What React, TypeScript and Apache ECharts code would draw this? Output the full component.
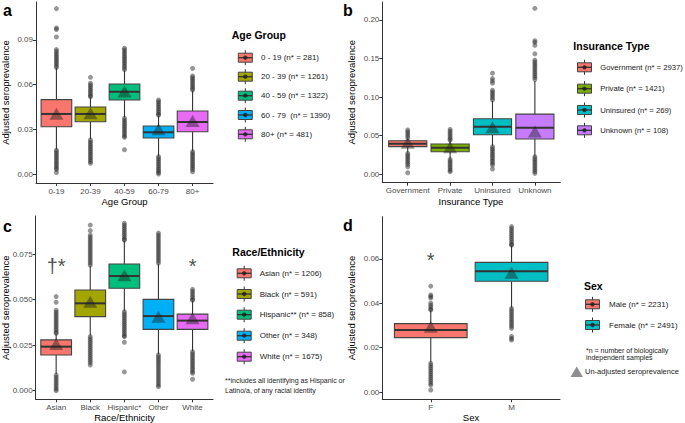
import React, { useEffect, useRef } from "react";
import * as echarts from "echarts";

const FONT = "'Liberation Sans', Arial, Helvetica, sans-serif";

// ---------- Panel a: Age Group ----------
const ageCats = ["0-19", "20-39", "40-59", "60-79", "80+"];
// [lower whisker, Q1, median, Q3, upper whisker]
const ageStats = [
  [0.0165, 0.0317, 0.0403, 0.0499, 0.0712],
  [0.0235, 0.0351, 0.0403, 0.045, 0.0515],
  [0.038, 0.0497, 0.0552, 0.0604, 0.0695],
  [0.012, 0.0242, 0.028, 0.0322, 0.039],
  [0.0155, 0.0284, 0.0349, 0.0423, 0.0558],
];
const ageOutliers = [
  [0.111, 0.098, 0.097, 0.092, 0.0835, 0.0823, 0.081, 0.0798, 0.0786, 0.0774, 0.0762, 0.075, 0.0738, 0.0726, 0.0715,
   0.016, 0.0148, 0.0136, 0.0124, 0.0112, 0.01, 0.0088, 0.0076, 0.0064, 0.0052, 0.004, 0.003, 0.001],
  [0.0649, 0.0609, 0.0597, 0.0585, 0.0573, 0.0561, 0.0549, 0.0537, 0.0525, 0.0519,
   0.0228, 0.0216, 0.0204, 0.0192, 0.018, 0.0168, 0.0156, 0.0144, 0.0132, 0.012, 0.0108, 0.0096, 0.0084, 0.0072],
  [0.0844, 0.0832, 0.082, 0.0808, 0.0796, 0.0784, 0.0772, 0.076, 0.0748, 0.0736, 0.0724, 0.0712, 0.07,
   0.0374, 0.0362, 0.035, 0.0338, 0.0326, 0.0314, 0.0302, 0.029, 0.0278, 0.0266, 0.0254, 0.0246, 0.0163],
  [0.0497, 0.0485, 0.0473, 0.0461, 0.0449, 0.0437, 0.0425, 0.0413, 0.0401, 0.0396,
   0.0116, 0.0104, 0.0092, 0.008, 0.0068, 0.0056, 0.0044, 0.0032, 0.002, 0.001, 0.0],
  [0.0709, 0.0658, 0.0646, 0.0634, 0.0622, 0.061, 0.0598, 0.0586, 0.0574, 0.0564,
   0.015, 0.0138, 0.0126, 0.0114, 0.0102, 0.009, 0.0078, 0.0066, 0.0054, 0.0042, 0.003, 0.0015],
];
const ageMeans = [0.0405, 0.0407, 0.0553, 0.03, 0.0355];
const ageTicks = [0, 0.03, 0.06, 0.09];
const ageTickLabels = ["0.00", "0.03", "0.06", "0.09"];
const ageLegend = ["0 - 19 (n* = 281)", "20 - 39 (n* = 1261)", "40 - 59 (n* = 1322)", "60 - 79  (n* = 1390)", "80+ (n* = 481)"];

// ---------- Panel b: Insurance Type ----------
const insCats = ["Government", "Private", "Uninsured", "Unknown"];
const insStats = [
  [0.028, 0.0358, 0.0396, 0.0435, 0.046],
  [0.02, 0.0293, 0.0345, 0.0392, 0.0438],
  [0.037, 0.0513, 0.0617, 0.072, 0.095],
  [0.0235, 0.0457, 0.0604, 0.078, 0.121],
];
const insOutliers = [
  [0.0574, 0.055, 0.0525, 0.05, 0.0474, 0.0272, 0.0248, 0.0224, 0.02, 0.0176, 0.0152, 0.0128, 0.0098, 0.002],
  [0.0583, 0.0558, 0.0533, 0.0508, 0.0483, 0.0458, 0.0444, 0.0194, 0.017, 0.0146, 0.0122, 0.0098, 0.0074, 0.005, 0.0034],
  [0.131, 0.124, 0.121, 0.118, 0.109, 0.1065, 0.104, 0.1015, 0.099, 0.0965,
   0.0358, 0.0334, 0.031, 0.0286, 0.0262, 0.0238, 0.0214, 0.019, 0.0166, 0.0142, 0.012, 0.0069],
  [0.215, 0.173, 0.171, 0.167, 0.156, 0.148, 0.1455, 0.143, 0.1405, 0.138, 0.1355, 0.133, 0.1305, 0.128, 0.1255, 0.123,
   0.0228, 0.0204, 0.018, 0.0156, 0.0132, 0.0108, 0.0084, 0.006, 0.0036, 0.0012],
];
const insMeans = [0.041, 0.035, 0.061, 0.0555];
const insTicks = [0, 0.05, 0.1, 0.15, 0.2];
const insTickLabels = ["0.00", "0.05", "0.10", "0.15", "0.20"];
const insLegend = ["Government (n* = 2937)", "Private (n* = 1421)", "Uninsured (n* = 269)", "Unknown (n* = 108)"];

// ---------- Panel c: Race/Ethnicity ----------
const raceCats = ["Asian", "Black", "Hispanic*", "Other", "White"];
const raceStats = [
  [0.0092, 0.0196, 0.0242, 0.0279, 0.031],
  [0.0302, 0.0407, 0.048, 0.0553, 0.0685],
  [0.0438, 0.0563, 0.063, 0.0696, 0.0824],
  [0.02, 0.0337, 0.041, 0.0502, 0.0697],
  [0.0218, 0.0337, 0.0385, 0.0421, 0.0494],
];
const raceOutliers = [
  [0.0517, 0.0486, 0.0442, 0.0431, 0.042, 0.0409, 0.0398, 0.0387, 0.0376, 0.0365, 0.0354, 0.0343, 0.0332, 0.0321, 0.0315,
   0.0086, 0.0075, 0.0064, 0.0053, 0.0042, 0.0031, 0.002, 0.0009, 0.0],
  [0.091, 0.088, 0.0855, 0.0844, 0.0833, 0.0822, 0.0811, 0.08, 0.0789, 0.0778, 0.0767, 0.0756, 0.0745, 0.0734, 0.0723, 0.0712, 0.0701, 0.069,
   0.0297, 0.0286, 0.0275, 0.0264, 0.0253, 0.0242, 0.0231, 0.022, 0.0209, 0.0198, 0.0187, 0.0176, 0.0165, 0.0154, 0.0141],
  [0.092, 0.0909, 0.0898, 0.0887, 0.0876, 0.0865, 0.0854, 0.0843, 0.0832, 0.0828,
   0.0434, 0.0423, 0.0412, 0.0401, 0.039, 0.0379, 0.0368, 0.0357, 0.0346, 0.0335, 0.0324, 0.0313, 0.0302, 0.0297, 0.0266, 0.0103],
  [0.0866, 0.0855, 0.0844, 0.0833, 0.0822, 0.0811, 0.08, 0.0789, 0.0778, 0.0767, 0.0756, 0.0745, 0.0734, 0.0723, 0.0712, 0.0701,
   0.0196, 0.0185, 0.0174, 0.0163, 0.0152, 0.0141, 0.013, 0.0119, 0.0108, 0.0097, 0.0086, 0.0075, 0.0064, 0.0053, 0.0042, 0.0031, 0.0022],
  [0.0557, 0.0546, 0.0535, 0.0524, 0.0513, 0.0502, 0.0498,
   0.0214, 0.0203, 0.0192, 0.0181, 0.017, 0.0159, 0.0148, 0.0137, 0.0126, 0.0115, 0.0104, 0.0096, 0.0063],
];
const raceMeans = [0.0257, 0.0489, 0.0635, 0.0407, 0.0398];
const raceTicks = [0, 0.025, 0.05, 0.075];
const raceTickLabels = ["0.000", "0.025", "0.050", "0.075"];
const raceLegend = ["Asian (n* = 1206)", "Black (n* = 591)", "Hispanic** (n* = 858)", "Other (n* = 348)", "White (n* = 1675)"];
const raceMarks: [number, number, string][] = [[0, 0.0685, "†*"], [4, 0.0685, "*"]];

// ---------- Panel d: Sex ----------
const sexCats = ["F", "M"];
const sexStats = [
  [0.0133, 0.0245, 0.0279, 0.0308, 0.0366],
  [0.038, 0.0499, 0.0544, 0.0584, 0.066],
];
const sexOutliers = [
  [0.0477, 0.0437, 0.043, 0.0423, 0.04, 0.0391, 0.0382, 0.0373, 0.037,
   0.0129, 0.012, 0.0111, 0.0102, 0.0093, 0.0084, 0.0075, 0.0066, 0.0057, 0.0048, 0.0039, 0.0031, 0.0009],
  [0.0745, 0.0736, 0.0727, 0.0718, 0.0709, 0.07, 0.0691, 0.0682, 0.0673, 0.0664, 0.0662,
   0.0377, 0.0368, 0.0359, 0.035, 0.0341, 0.0332, 0.0323, 0.0314, 0.0305, 0.0296, 0.0287, 0.025, 0.0241, 0.0234],
];
const sexMeans = [0.0294, 0.0537];
const sexTicks = [0, 0.02, 0.04, 0.06];
const sexTickLabels = ["0.00", "0.02", "0.04", "0.06"];
const sexLegend = ["Male (n* = 2231)", "Female (n* = 2491)"];
const sexMarks: [number, number, string][] = [[0, 0.0595, "*"]];

const hue5 = ["#F8766D", "#A3A500", "#00BF7D", "#00B0F6", "#E76BF3"];
const hue4 = ["#F8766D", "#7CAE00", "#00BFC4", "#C77CFF"];
const hue2 = ["#F8766D", "#00BFC4"];

interface PanelCfg {
  cats: string[];
  stats: number[][];
  outliers: number[][];
  means: number[];
  colors: string[];
  ticks: number[];
  tickLabels: string[];
  grid: { left: number; top: number; width: number; height: number };
  yMin: number;
  yMax: number;
  marks?: [number, number, string][];
}

const panels: PanelCfg[] = [
  { cats: ageCats, stats: ageStats, outliers: ageOutliers, means: ageMeans, colors: hue5, ticks: ageTicks, tickLabels: ageTickLabels,
    grid: { left: 36, top: 2, width: 177, height: 181 }, yMin: -0.00604, yMax: 0.11544 },
  { cats: insCats, stats: insStats, outliers: insOutliers, means: insMeans, colors: hue4, ticks: insTicks, tickLabels: insTickLabels,
    grid: { left: 382.3, top: 2, width: 178, height: 180.7 }, yMin: -0.01088, yMax: 0.2232 },
  { cats: raceCats, stats: raceStats, outliers: raceOutliers, means: raceMeans, colors: hue5, ticks: raceTicks, tickLabels: raceTickLabels,
    grid: { left: 35.7, top: 216, width: 177.3, height: 183.3 }, yMin: -0.004725, yMax: 0.09599, marks: raceMarks },
  { cats: sexCats, stats: sexStats, outliers: sexOutliers, means: sexMeans, colors: hue2, ticks: sexTicks, tickLabels: sexTickLabels,
    grid: { left: 382.3, top: 216.7, width: 177.7, height: 182.6 }, yMin: -0.003288, yMax: 0.07896, marks: sexMarks },
];

function txt(text: string, x: number, y: number, size: number, opts: any = {}) {
  return {
    type: "text",
    x,
    y,
    rotation: opts.rotation || 0,
    silent: true,
    style: {
      text,
      font: `${opts.bold ? "bold " : ""}${size}px ${FONT}`,
      fill: opts.color || "#1a1a1a",
      textAlign: opts.align || "left",
      textVerticalAlign: "middle",
      align: opts.align || "left",
      verticalAlign: "middle",
    },
  };
}

function legendBlock(title: string, tx: number, ty: number, cx: number, rows: number[], colors: string[], labels: string[], textX: number, labelSize = 8) {
  const els: any[] = [txt(title, tx, ty, 10.5, { bold: true, color: "#000" })];
  rows.forEach((cy, i) => {
    els.push({ type: "line", silent: true, shape: { x1: cx, y1: cy - 7.5, x2: cx, y2: cy + 7.5 }, style: { stroke: "#333", lineWidth: 1 } });
    els.push({ type: "rect", silent: true, shape: { x: cx - 7, y: cy - 4.5, width: 14, height: 9 }, style: { fill: colors[i], stroke: "#444", lineWidth: 1 } });
    els.push({ type: "line", silent: true, shape: { x1: cx - 7, y1: cy, x2: cx + 7, y2: cy }, style: { stroke: "#333", lineWidth: 1.3 } });
    els.push({ type: "circle", silent: true, shape: { cx, cy, r: 2.2 }, style: { fill: "rgba(30,30,30,0.8)" } });
    els.push(txt(labels[i], textX, cy, labelSize, { color: "#1a1a1a" }));
  });
  return els;
}

function buildOption() {
  const grid: any[] = [];
  const xAxis: any[] = [];
  const yAxis: any[] = [];
  const series: any[] = [];

  panels.forEach((p, gi) => {
    const n = p.cats.length;
    const idx = p.cats.map((_, i) => i);
    grid.push({ ...p.grid, containLabel: false });
    xAxis.push({
      type: "value",
      gridIndex: gi,
      min: -0.6,
      max: n - 0.4,
      axisLine: { show: true, onZero: false, lineStyle: { color: "#333", width: 1 } },
      axisTick: { show: true, length: 3, lineStyle: { color: "#333" }, customValues: idx },
      axisLabel: {
        customValues: idx,
        formatter: (v: number) => p.cats[Math.round(v)] ?? "",
        color: "#4D4D4D",
        fontSize: 8,
        fontFamily: FONT,
        margin: 4,
      },
      splitLine: { show: false },
    });
    yAxis.push({
      type: "value",
      gridIndex: gi,
      min: p.yMin,
      max: p.yMax,
      axisLine: { show: true, onZero: false, lineStyle: { color: "#333", width: 1 } },
      axisTick: { show: true, length: 3, lineStyle: { color: "#333" }, customValues: p.ticks },
      axisLabel: {
        customValues: p.ticks,
        formatter: (v: number) => {
          const k = p.ticks.findIndex((t) => Math.abs(t - v) < 1e-9);
          return k >= 0 ? p.tickLabels[k] : "";
        },
        color: "#4D4D4D",
        fontSize: 8,
        fontFamily: FONT,
        margin: 3,
      },
      splitLine: { show: false },
    });

    const outData: number[][] = [];
    p.outliers.forEach((arr, i) => arr.forEach((v) => outData.push([i, v])));
    series.push({
      type: "scatter",
      xAxisIndex: gi,
      yAxisIndex: gi,
      data: outData,
      symbol: "circle",
      symbolSize: 5,
      itemStyle: { color: "rgba(45,45,45,0.62)" },
      silent: true,
      z: 2,
    });

    const colors = p.colors;
    series.push({
      type: "custom",
      xAxisIndex: gi,
      yAxisIndex: gi,
      data: p.stats.map((s, i) => [i, ...s]),
      z: 3,
      silent: true,
      renderItem: (_params: any, api: any) => {
        const i = api.value(0);
        const mn = api.value(1), q1 = api.value(2), md = api.value(3), q3 = api.value(4), mx = api.value(5);
        const pMin = api.coord([i, mn]);
        const pMax = api.coord([i, mx]);
        const tl = api.coord([i - 0.45, q3]);
        const br = api.coord([i + 0.45, q1]);
        const pm = api.coord([i, md]);
        return {
          type: "group",
          children: [
            { type: "line", shape: { x1: pMin[0], y1: pMin[1], x2: pMin[0], y2: br[1] }, style: { stroke: "#333", lineWidth: 1.1 } },
            { type: "line", shape: { x1: pMax[0], y1: pMax[1], x2: pMax[0], y2: tl[1] }, style: { stroke: "#333", lineWidth: 1.1 } },
            { type: "rect", shape: { x: tl[0], y: tl[1], width: br[0] - tl[0], height: br[1] - tl[1] }, style: { fill: colors[i], stroke: "#444", lineWidth: 1.1 } },
            { type: "line", shape: { x1: tl[0], y1: pm[1], x2: br[0], y2: pm[1] }, style: { stroke: "#333", lineWidth: 2 } },
          ],
        };
      },
    });

    series.push({
      type: "scatter",
      xAxisIndex: gi,
      yAxisIndex: gi,
      data: p.means.map((m, i) => [i, m]),
      symbol: "triangle",
      symbolSize: [14, 12],
      itemStyle: { color: "rgba(30,30,30,0.55)" },
      silent: true,
      z: 4,
    });

    if (p.marks) {
      series.push({
        type: "scatter",
        xAxisIndex: gi,
        yAxisIndex: gi,
        data: p.marks.map((m) => [m[0], m[1], m[2]]),
        symbolSize: 1,
        itemStyle: { color: "rgba(0,0,0,0)" },
        silent: true,
        z: 5,
        label: {
          show: true,
          position: "inside",
          formatter: (q: any) => q.data[2],
          fontSize: 20,
          fontFamily: FONT,
          color: "#1a1a1a",
        },
      });
    }
  });

  const graphic: any[] = [
    // panel letters
    txt("a", 3, 10, 16, { bold: true, color: "#000" }),
    txt("b", 343, 10, 16, { bold: true, color: "#000" }),
    txt("c", 3, 226, 16, { bold: true, color: "#000" }),
    txt("d", 343, 225, 16, { bold: true, color: "#000" }),
    // y titles
    txt("Adjusted seroprevalence", 5, 92.5, 9.5, { rotation: Math.PI / 2, align: "center", color: "#000" }),
    txt("Adjusted seroprevalence", 351, 92.3, 9.5, { rotation: Math.PI / 2, align: "center", color: "#000" }),
    txt("Adjusted seroprevalence", 5, 307.7, 9.5, { rotation: Math.PI / 2, align: "center", color: "#000" }),
    txt("Adjusted seroprevalence", 351, 308, 9.5, { rotation: Math.PI / 2, align: "center", color: "#000" }),
    // x titles
    txt("Age Group", 124.5, 201, 9.5, { align: "center", color: "#000" }),
    txt("Insurance Type", 471, 201, 9.5, { align: "center", color: "#000" }),
    txt("Race/Ethnicity", 124.5, 417.5, 9.5, { align: "center", color: "#000" }),
    txt("Sex", 471, 417.5, 9.5, { align: "center", color: "#000" }),
    // legends
    ...legendBlock("Age Group", 231.7, 35, 245.3, [57.7, 76.7, 95.7, 115, 134.3], hue5, ageLegend, 261),
    ...legendBlock("Insurance Type", 573.3, 45.7, 584.5, [67.3, 88.7, 110, 130.3], hue4, insLegend, 600.2, 7.7),
    ...legendBlock("Race/Ethnicity", 232.3, 251.7, 244.2, [273.3, 294, 314.7, 335.7, 356.7], hue5, raceLegend, 259.7),
    ...legendBlock("Sex", 584, 286, 592.5, [304.3, 325], hue2, sexLegend, 609),
    txt("**includes all identifying as Hispanic or", 225, 380.7, 7, { color: "#1a1a1a" }),
    txt("Latino/a, of any racial identity", 225, 390, 7, { color: "#1a1a1a" }),
    txt("*n = number of biologically", 586, 350, 7, { color: "#1a1a1a" }),
    txt("independent samples", 586, 357.5, 7, { color: "#1a1a1a" }),
    {
      type: "polygon",
      silent: true,
      shape: { points: [[576.7, 366.5], [582.9, 377], [570.5, 377]] },
      style: { fill: "rgba(30,30,30,0.5)" },
    },
    txt("Un-adjusted seroprevalence", 585, 371.7, 7.5, { color: "#1a1a1a" }),
  ];

  return {
    animation: false,
    backgroundColor: "#fff",
    grid,
    xAxis,
    yAxis,
    series,
    graphic,
  };
}

export default function App() {
  const ref = useRef<HTMLDivElement>(null);
  useEffect(() => {
    if (!ref.current) return;
    const chart = echarts.init(ref.current, undefined, { renderer: "svg" });
    chart.setOption(buildOption() as any);
    return () => chart.dispose();
  }, []);
  return (
    <div
      ref={ref}
      style={{ position: "absolute", left: 0, top: 0, width: 685, height: 423, background: "#fff" }}
    />
  );
}
